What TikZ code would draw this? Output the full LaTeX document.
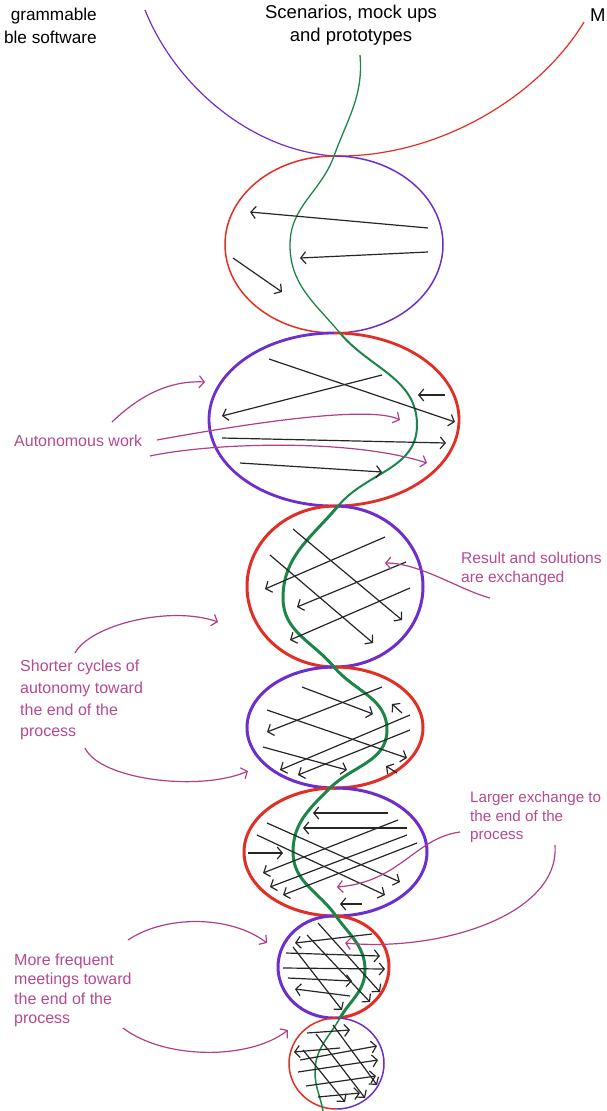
\documentclass[tikz,border=0pt]{standalone}
\usepackage{fontspec}
\setmainfont{Liberation Sans}
\usetikzlibrary{arrows.meta}
\definecolor{cred}{RGB}{226,46,36}
\definecolor{cpur}{RGB}{108,46,204}
\definecolor{cgrn}{RGB}{28,134,72}
\definecolor{cmag}{RGB}{178,62,132}
\definecolor{ctxt}{RGB}{182,74,142}
\tikzset{
  blk/.style={draw=black!85, line width=1.2pt, -{Straight Barb[length=5pt,width=12pt]}},
  magarrow/.style={draw=cmag, line width=1.2pt, -{Straight Barb[length=5pt,width=12pt]}},
  lbl/.style={text=ctxt, align=left, inner sep=0pt, anchor=north west},
  toplbl/.style={font=\fontsize{18.5}{23}\selectfont, inner sep=0pt},
  grn/.style={draw=cgrn}
}
\newcommand\ellhalves[7]{%
  \draw[#5,line width=#7pt] ({#1},{#4-#2}) arc[start angle=90,end angle=270,x radius=#3,y radius=#4];
  \draw[#6,line width=#7pt] ({#1},{-#4-#2}) arc[start angle=-90,end angle=90,x radius=#3,y radius=#4];}
\begin{document}
\begin{tikzpicture}[x=1pt,y=1pt]
\useasboundingbox (0,0) rectangle (606,-1111);
\clip (0,0) rectangle (606,-1111);
% top strands
\draw[cpur, line width=1.2pt] (145,-10) .. controls (175,-85) and (250,-150) .. (334,-156);
\draw[cred, line width=1.2pt] (584,-22) .. controls (540,-95) and (440,-158) .. (334,-156);
% ellipses
\ellhalves{334}{244.5}{109}{88.5}{cred}{cpur}{1.5}
\ellhalves{334}{419.5}{125}{86.5}{cpur}{cred}{2.8}
\ellhalves{335}{586.5}{88}{80.5}{cred}{cpur}{3}
\ellhalves{335}{727.5}{88}{60.5}{cpur}{cred}{3}
\ellhalves{335.5}{852}{91.5}{64}{cred}{cpur}{3}
\ellhalves{333.5}{967}{55.5}{51}{cpur}{cred}{3}
\ellhalves{336.5}{1063.5}{47.5}{45.5}{cred}{cpur}{1.5}
% green strand
\draw[grn, line width=1.3pt] (360,-55) to[out=-85,in=70] (334,-156) to[out=-110,in=90] (290,-245) to[out=-90,in=130] (340,-333);
\draw[grn, line width=2pt] (340,-333) to[out=-50,in=90] (417,-425) to[out=-90,in=50] (338,-506);
\draw[grn, line width=3pt] (338,-506) to[out=-130,in=90] (283,-598) to[out=-90,in=130] (334,-667)
  to[out=-50,in=90] (387,-730) to[out=-90,in=45] (330,-788) to[out=-135,in=90] (293,-852)
  to[out=-90,in=125] (336,-916) to[out=-55,in=90] (365,-970) to[out=-90,in=60] (340,-1018);
\draw[grn, line width=1.5pt] (340,-1018) to[out=-120,in=90] (315,-1072) to[out=-90,in=100] (323,-1111);
% E1 arrows
\draw[blk] (428,-228) -- (250,-212);
\draw[blk] (428,-252) -- (300,-258);
\draw[blk] (233,-258) -- (282,-292);
% E2 arrows
\draw[blk] (269,-359) -- (455,-422);
\draw[blk] (382,-375) -- (222,-416);
\draw[blk] (445,-395) -- (418,-395);
\draw[blk] (222,-438) -- (446,-443);
\draw[blk] (240,-463) -- (382,-472);
% E3 arrows
\draw[blk] (293,-529) -- (402,-620);
\draw[blk] (270,-555) -- (373,-643);
\draw[blk] (385,-537) -- (265,-589);
\draw[blk] (406,-562) -- (297,-607);
\draw[blk] (410,-588) -- (290,-640);
% E4 arrows
\draw[blk] (302,-687) -- (373,-714);
\draw[blk] (382,-687) -- (267,-732);
\draw[blk] (402,-713) -- (392,-704);
\draw[blk] (267,-710) -- (407,-758);
\draw[blk] (410,-715) -- (280,-770);
\draw[blk] (410,-730) -- (298,-775);
\draw[blk] (263,-747) -- (347,-770);
\draw[blk] (397,-773) -- (386,-766);
% E5 arrows
\draw[blk] (388,-813) -- (313,-813);
\draw[blk] (407,-828) -- (303,-828);
\draw[blk] (267,-823) -- (400,-882);
\draw[blk] (257,-835) -- (385,-895);
\draw[blk] (248,-853) -- (283,-853);
\draw[blk] (398,-820) -- (263,-873);
\draw[blk] (407,-835) -- (270,-887);
\draw[blk] (417,-843) -- (283,-895);
\draw[blk] (362,-904) -- (340,-904);
% E6 arrows
\draw[blk] (372,-934) -- (295,-943);
\draw[blk] (286,-953) -- (380,-956);
\draw[blk] (283,-968) -- (385,-969);
\draw[blk] (288,-978) -- (352,-981);
\draw[blk] (350,-996) -- (295,-989);
\draw[blk] (318,-923) -- (380,-992);
\draw[blk] (307,-935) -- (370,-1002);
\draw[blk] (293,-947) -- (342,-1010);
% E7 arrows
\draw[blk] (307,-1033) -- (350,-1030);
\draw[blk] (340,-1048) -- (294,-1052);
\draw[blk] (300,-1060) -- (377,-1046);
\draw[blk] (298,-1072) -- (378,-1060);
\draw[blk] (306,-1086) -- (376,-1076);
\draw[blk] (318,-1097) -- (360,-1093);
\draw[blk] (333,-1025) -- (377,-1085);
\draw[blk] (316,-1034) -- (365,-1098);
\draw[blk] (303,-1050) -- (345,-1102);
% magenta annotation arrows
\draw[magarrow] (112,-422) .. controls (135,-400) and (165,-380) .. (205,-382);
\draw[magarrow] (157,-440) .. controls (250,-423) and (370,-405) .. (400,-420);
\draw[magarrow] (150,-456) .. controls (210,-443) and (350,-438) .. (427,-463);
\draw[magarrow] (490,-598) .. controls (460,-590) and (420,-563) .. (385,-563);
\draw[magarrow] (75,-653) .. controls (90,-625) and (170,-605) .. (218,-622);
\draw[magarrow] (85,-748) .. controls (100,-780) and (200,-792) .. (248,-771);
\draw[magarrow] (555,-845) .. controls (560,-915) and (440,-952) .. (345,-943);
\draw[magarrow] (460,-832) .. controls (415,-838) and (400,-882) .. (337,-887);
\draw[magarrow] (128,-940) .. controls (165,-915) and (230,-915) .. (267,-943);
\draw[magarrow] (123,-1028) .. controls (165,-1060) and (250,-1060) .. (288,-1030);
% texts
\node[inner sep=0pt, align=right, anchor=east, font=\fontsize{17.2}{23}\selectfont] (tl) at (97,-26) {grammable\\ble software};
\node[toplbl, align=center] (tc) at (351,-25) {Scenarios, mock ups\\and prototypes};
\node[toplbl, anchor=west] (tr) at (590,-15) {M};
\node[lbl, anchor=west, font=\fontsize{16}{19}\selectfont] (aw) at (14,-441) {Autonomous work};
\node[lbl, font=\fontsize{15.6}{18.5}\selectfont] (rs) at (461,-552) {Result and solutions\\are exchanged};
\node[lbl, font=\fontsize{16}{21.7}\selectfont] (sc) at (20,-660) {Shorter cycles of\\autonomy toward\\the end of the\\process};
\node[lbl, font=\fontsize{15.2}{18.8}\selectfont] (le) at (470,-791) {Larger exchange to\\the end of the\\process};
\node[lbl, font=\fontsize{16}{19.2}\selectfont] (mf) at (14,-954) {More frequent\\meetings toward\\the end of the\\process};
\end{tikzpicture}
\end{document}
